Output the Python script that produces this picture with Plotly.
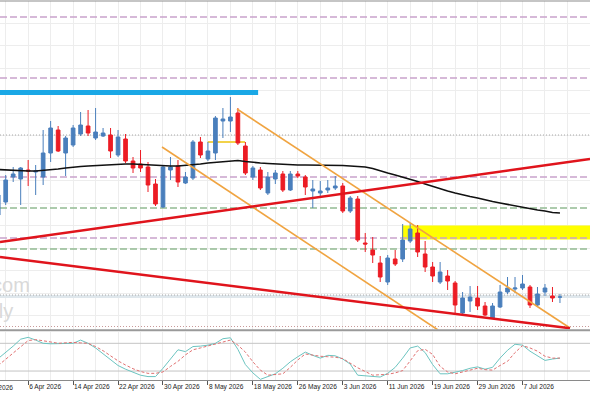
import pandas as pd
import plotly.graph_objects as go

# ---------------- data ----------------
bar_dates = pd.bdate_range("2026-03-31", "2026-07-14")
base_date = pd.Timestamp("2026-04-01")

open_ = [1.1570, 1.1596, 1.1646, 1.1642, 1.1660, 1.1656, 1.1646, 1.1694, 1.1740, 1.1694,
         1.1710, 1.1732, 1.1748, 1.1724, 1.1728, 1.1730, 1.1690, 1.1722, 1.1678, 1.1672,
         1.1666, 1.1632, 1.1586, 1.1660, 1.1668, 1.1634, 1.1644, 1.1716, 1.1682, 1.1694,
         1.1758, 1.1758, 1.1774, 1.1708, 1.1646, 1.1660, 1.1614, 1.1642, 1.1652, 1.1620,
         1.1652, 1.1646, 1.1618, 1.1614, 1.1620, 1.1624, 1.1628, 1.1578, 1.1602, 1.1514,
         1.1500, 1.1474, 1.1436, 1.1482, 1.1482, 1.1518, 1.1534, 1.1492, 1.1466, 1.1436,
         1.1448, 1.1434, 1.1374, 1.1398, 1.1404, 1.1388, 1.1364, 1.1386, 1.1416, 1.1422,
         1.1424, 1.1426, 1.1390, 1.1416, 1.1408, 1.1406]
high = [1.1620, 1.1650, 1.1666, 1.1666, 1.1680, 1.1670, 1.1740, 1.1758, 1.1748, 1.1728,
        1.1750, 1.1776, 1.1780, 1.1784, 1.1744, 1.1744, 1.1740, 1.1732, 1.1686, 1.1700,
        1.1676, 1.1642, 1.1670, 1.1686, 1.1680, 1.1656, 1.1720, 1.1726, 1.1716, 1.1768,
        1.1784, 1.1806, 1.1784, 1.1716, 1.1668, 1.1666, 1.1656, 1.1660, 1.1658, 1.1658,
        1.1658, 1.1650, 1.1640, 1.1638, 1.1640, 1.1648, 1.1634, 1.1608, 1.1608, 1.1534,
        1.1526, 1.1488, 1.1490, 1.1500, 1.1552, 1.1554, 1.1550, 1.1518, 1.1476, 1.1476,
        1.1460, 1.1438, 1.1416, 1.1428, 1.1428, 1.1396, 1.1394, 1.1430, 1.1446, 1.1446,
        1.1450, 1.1430, 1.1426, 1.1432, 1.1426, 1.1412]
low = [1.1564, 1.1590, 1.1636, 1.1590, 1.1628, 1.1610, 1.1630, 1.1676, 1.1696, 1.1648,
       1.1706, 1.1728, 1.1728, 1.1720, 1.1726, 1.1684, 1.1686, 1.1674, 1.1654, 1.1656,
       1.1616, 1.1588, 1.1584, 1.1640, 1.1626, 1.1632, 1.1640, 1.1684, 1.1678, 1.1680,
       1.1724, 1.1736, 1.1710, 1.1650, 1.1640, 1.1620, 1.1610, 1.1632, 1.1616, 1.1618,
       1.1644, 1.1610, 1.1584, 1.1608, 1.1614, 1.1620, 1.1574, 1.1574, 1.1516, 1.1496,
       1.1474, 1.1436, 1.1430, 1.1468, 1.1476, 1.1514, 1.1486, 1.1456, 1.1436, 1.1432,
       1.1420, 1.1374, 1.1372, 1.1376, 1.1380, 1.1368, 1.1362, 1.1384, 1.1412, 1.1414,
       1.1420, 1.1384, 1.1388, 1.1408, 1.1396, 1.1394]
close = [1.1610, 1.1640, 1.1652, 1.1664, 1.1658, 1.1658, 1.1694, 1.1744, 1.1698, 1.1724,
         1.1744, 1.1750, 1.1734, 1.1736, 1.1734, 1.1698, 1.1726, 1.1678, 1.1664, 1.1664,
         1.1630, 1.1592, 1.1666, 1.1666, 1.1636, 1.1646, 1.1716, 1.1690, 1.1698, 1.1764,
         1.1762, 1.1766, 1.1714, 1.1654, 1.1664, 1.1624, 1.1646, 1.1654, 1.1620, 1.1652,
         1.1648, 1.1626, 1.1622, 1.1618, 1.1624, 1.1628, 1.1578, 1.1604, 1.1520, 1.1512,
         1.1490, 1.1446, 1.1484, 1.1472, 1.1520, 1.1542, 1.1496, 1.1466, 1.1448, 1.1456,
         1.1438, 1.1390, 1.1404, 1.1406, 1.1388, 1.1370, 1.1388, 1.1416, 1.1424, 1.1424,
         1.1432, 1.1390, 1.1412, 1.1424, 1.1404, 1.1406]
moving_avg = [1.1661, 1.1660, 1.1660, 1.1659, 1.1658, 1.1658, 1.1659, 1.1660, 1.1662, 1.1664,
              1.1666, 1.1667, 1.1668, 1.1669, 1.1670, 1.1671, 1.1672, 1.1672, 1.1672, 1.1671,
              1.1670, 1.1669, 1.1668, 1.1668, 1.1668, 1.1669, 1.1670, 1.1672, 1.1674, 1.1675,
              1.1676, 1.1678, 1.1679, 1.1677, 1.1675, 1.1674, 1.1673, 1.1672, 1.1671, 1.1670,
              1.1670, 1.1670, 1.1670, 1.1670, 1.1670, 1.1670, 1.1669, 1.1668, 1.1667, 1.1666,
              1.1663, 1.1658, 1.1654, 1.1650, 1.1646, 1.1642, 1.1637, 1.1632, 1.1627, 1.1622,
              1.1618, 1.1614, 1.1610, 1.1607, 1.1604, 1.1600, 1.1597, 1.1594, 1.1591, 1.1588,
              1.1586, 1.1583, 1.1580, 1.1578, 1.1575, 1.1574]
stoch_main = [47, 60, 74, 89, 93, 87, 80, 79, 79, 79, 80, 87, 80, 70, 57, 44, 32, 24, 18, 11,
              8, 8, 26, 45, 66, 62, 73, 74, 76, 80, 90, 92, 67, 34, 16, 2, 8, 14, 26, 40,
              51, 61, 54, 48, 54, 53, 46, 35, 11, 10, 9, 7, 15, 28, 48, 70, 74, 60, 34, 14,
              14, 17, 21, 26, 29, 24, 28, 48, 65, 78, 76, 63, 53, 43, 46, 48]
stoch_signal = [32, 46, 58, 72, 86, 88, 86, 83, 80, 81, 82, 81, 80, 73, 64, 53, 42, 33, 25, 19,
                15, 15, 18, 30, 41, 55, 66, 70, 74, 78, 83, 87, 76, 61, 40, 22, 11, 12, 14, 28,
                44, 57, 54, 52, 51, 50, 47, 37, 27, 19, 11, 12, 13, 16, 21, 42, 64, 67, 56, 30,
                18, 14, 18, 23, 26, 23, 22, 32, 41, 60, 75, 70, 63, 52, 48, 48]
stoch_levels = [20, 80]

tick_dates = ["2026-03-27", "2026-04-06", "2026-04-14", "2026-04-22", "2026-04-30",
              "2026-05-08", "2026-05-18", "2026-05-26", "2026-06-03", "2026-06-11",
              "2026-06-19", "2026-06-29", "2026-07-07"]
tick_labels = ["27 Mar 2026", "6 Apr 2026", "14 Apr 2026", "22 Apr 2026", "30 Apr 2026",
               "8 May 2026", "18 May 2026", "26 May 2026", "3 Jun 2026", "11 Jun 2026",
               "19 Jun 2026", "29 Jun 2026", "7 Jul 2026"]

# horizontal levels (price)
purple_levels = [1.1966, 1.1844, 1.1646, 1.1524]
green_levels = [1.1584, 1.1502]
gray_dotted_levels = [1.1730, 1.1410]
pink_dotted_levels = [1.1347]
band_levels = [1.1407]

# drawn objects (bar index, price)
red_line_up = [(-0.761, 1.1516), (78.01, 1.1682)]
red_line_down = [(-0.761, 1.1486), (75.34, 1.13434)]
orange_line_up = [(30.88, 1.1782), (75.34, 1.1344)]
orange_line_down = [(20.87, 1.1706), (57.72, 1.1340)]
cyan_level = [(-0.761, 1.1815), (33.7, 1.1815)]
yellow_level = [(26.97, 1.1716), (31.95, 1.1716)]
yellow_zone = [(52.9, 1.1521), (80.0, 1.1549)]

watermark_text = "fx.com<br>daily\u00a0\u00a0\u00a0"

# ---------------- positions ----------------
all_days = list(pd.bdate_range("2026-03-20", "2026-07-20"))
offset = all_days.index(base_date)
x = [all_days.index(d) - offset for d in bar_dates]
tick_vals = [all_days.index(pd.Timestamp(d)) - offset for d in tick_dates]

W, H = 590, 393
def py(p):
    return 1 - p / H

X_RANGE = [-0.761, 78.01]

visible = [(v, t) for v, t in zip(tick_vals, tick_labels) if X_RANGE[0] <= v <= X_RANGE[1]]
hidden = [(v, t) for v, t in zip(tick_vals, tick_labels) if not (X_RANGE[0] <= v <= X_RANGE[1])]

fig = go.Figure()

fig.add_trace(go.Candlestick(
    x=x, open=open_, high=high, low=low, close=close,
    increasing=dict(fillcolor="#4a7fbc", line=dict(color="#4a7fbc", width=1)),
    decreasing=dict(fillcolor="#ec1c24", line=dict(color="#ec1c24", width=1)),
    xaxis="x", yaxis="y", hoverinfo="skip"))

fig.add_trace(go.Scatter(x=x, y=moving_avg, mode="lines",
                         line=dict(color="#111111", width=1.6),
                         xaxis="x", yaxis="y", hoverinfo="skip"))

fig.add_trace(go.Scatter(x=x, y=stoch_main, mode="lines",
                         line=dict(color="#6cc4c0", width=1),
                         xaxis="x2", yaxis="y2", hoverinfo="skip"))
fig.add_trace(go.Scatter(x=x, y=stoch_signal, mode="lines",
                         line=dict(color="#e07070", width=1, dash="3px,2px"),
                         xaxis="x2", yaxis="y2", hoverinfo="skip"))

shapes = []
(zx0, zy0), (zx1, zy1) = yellow_zone
shapes.append(dict(type="rect", xref="x", yref="y", x0=zx0, x1=zx1, y0=zy0, y1=zy1,
                   fillcolor="#ffff00", line=dict(width=0), layer="between"))
for lv in band_levels:
    shapes.append(dict(type="line", xref="x", yref="y", x0=X_RANGE[0], x1=X_RANGE[1],
                       y0=lv, y1=lv, line=dict(color="#dfe7ec", width=3), layer="between"))
for lv in purple_levels:
    shapes.append(dict(type="line", xref="x", yref="y", x0=X_RANGE[0], x1=X_RANGE[1],
                       y0=lv, y1=lv, line=dict(color="#c9a3cc", width=1.3, dash="7px,3px"),
                       layer="between"))
for lv in green_levels:
    shapes.append(dict(type="line", xref="x", yref="y", x0=X_RANGE[0], x1=X_RANGE[1],
                       y0=lv, y1=lv, line=dict(color="#93bb93", width=1.3, dash="7px,3px"),
                       layer="between"))
for lv in gray_dotted_levels:
    shapes.append(dict(type="line", xref="x", yref="y", x0=X_RANGE[0], x1=X_RANGE[1],
                       y0=lv, y1=lv, line=dict(color="#a8a8a8", width=1, dash="1px,2px"),
                       layer="between"))
for lv in pink_dotted_levels:
    shapes.append(dict(type="line", xref="x", yref="y", x0=X_RANGE[0], x1=X_RANGE[1],
                       y0=lv, y1=lv, line=dict(color="#c99a9a", width=1, dash="1px,2px"),
                       layer="between"))
(cx0, cy0), (cx1, cy1) = cyan_level
shapes.append(dict(type="line", xref="x", yref="y", x0=cx0, x1=cx1, y0=cy0, y1=cy1,
                   line=dict(color="#1aa8e6", width=5), layer="between"))
(ax0, ay0), (ax1, ay1) = yellow_level
shapes.append(dict(type="line", xref="x", yref="y", x0=ax0, x1=ax1, y0=ay0, y1=ay1,
                   line=dict(color="#f2d24a", width=2), layer="between"))

for pts, col, w in [(orange_line_up, "#f0a441", 1.6), (orange_line_down, "#f0a441", 1.6),
                    (red_line_up, "#e0141c", 2.4), (red_line_down, "#e0141c", 2.4)]:
    (lx0, ly0), (lx1, ly1) = pts
    shapes.append(dict(type="line", xref="x", yref="y", x0=lx0, x1=lx1, y0=ly0, y1=ly1,
                       line=dict(color=col, width=w), layer="above"))

for lv in stoch_levels:
    shapes.append(dict(type="line", xref="x2", yref="y2", x0=X_RANGE[0], x1=X_RANGE[1],
                       y0=lv, y1=lv, line=dict(color="#c4c4c4", width=1), layer="between"))

shapes.append(dict(type="line", xref="paper", yref="paper", x0=0, x1=1, y0=py(1), y1=py(1),
                   line=dict(color="#8c8c8c", width=1.2)))
shapes.append(dict(type="line", xref="paper", yref="paper", x0=0, x1=1, y0=py(330.2), y1=py(330.2),
                   line=dict(color="#9a9a9a", width=2)))

tick_font = dict(family="Liberation Sans Narrow, Liberation Sans, Arial", size=6.6, color="#222222")

annotations = [
    dict(xref="paper", yref="paper", x=32 / W, y=py(298), xanchor="right", yanchor="middle",
         text=watermark_text, showarrow=False, align="right",
         font=dict(family="Liberation Sans, Arial", size=20, color="#d9d9d9")),
]
for v, t in hidden:
    annotations.append(dict(xref="paper", yref="paper", x=15 / W, y=py(387),
                            xanchor="right", yanchor="middle", text=t, showarrow=False,
                            font=tick_font))

fig.update_layout(
    width=W, height=H, margin=dict(l=0, r=0, t=0, b=0, autoexpand=False),
    paper_bgcolor="white", plot_bgcolor="white", showlegend=False,
    shapes=shapes, annotations=annotations,
    xaxis=dict(domain=[0, 1], range=X_RANGE, anchor="y", showticklabels=False,
               showgrid=True, gridcolor="#ededed", gridwidth=1, tickmode="linear",
               tick0=0, dtick=3, zeroline=False, ticks="", rangeslider=dict(visible=False),
               automargin=False),
    yaxis=dict(domain=[py(329.5), py(1)], range=[1.1341, 1.1998], showticklabels=False,
               showgrid=True, gridcolor="#ededed", gridwidth=1, tickmode="linear",
               tick0=1.1909, dtick=0.0045, zeroline=False, ticks="", automargin=False),
    xaxis2=dict(domain=[0, 1], range=X_RANGE, anchor="y2", matches="x",
                tickmode="array", tickvals=[v for v, _ in visible],
                ticktext=[t for _, t in visible], tickangle=0,
                ticks="outside", ticklen=4, tickcolor="#555555", tickwidth=1,
                ticklabelposition="outside right", tickfont=tick_font,
                showgrid=False, zeroline=False, showline=True, linecolor="#8a8a8a", linewidth=1,
                automargin=False,
                minor=dict(tickmode="linear", tick0=0, dtick=3, showgrid=True,
                           gridcolor="#ededed", ticks="")),
    yaxis2=dict(domain=[py(380), py(331.5)], range=[0.6, 105.6], showticklabels=False,
                showgrid=False, zeroline=False, ticks="", automargin=False),
)

fig.write_html("out.html")
